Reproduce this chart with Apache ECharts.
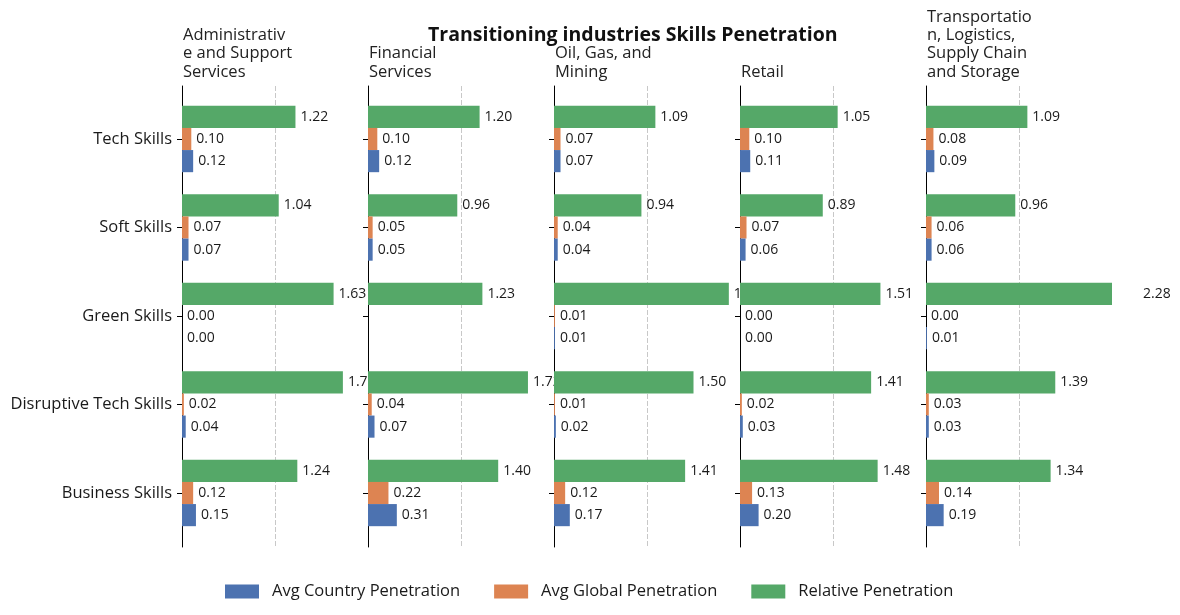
<!DOCTYPE html>
<html>
<head>
<meta charset="utf-8">
<script src="https://cdn.jsdelivr.net/npm/echarts@6/dist/echarts.min.js"></script>
<style>html,body{margin:0;padding:0;background:#fff}#c{width:1180px;height:615px}</style>
</head>
<body>
<div id="c"></div>
<script>
// ---- data (categories listed top to bottom as displayed) ----
var categories = ['Tech Skills', 'Soft Skills', 'Green Skills', 'Disruptive Tech Skills', 'Business Skills'];
var industries = ['Administrativ\ne and Support\nServices', 'Financial\nServices', 'Oil, Gas, and\nMining', 'Retail', 'Transportatio\nn, Logistics,\nSupply Chain\nand Storage'];
var seriesNames = ['Avg Country Penetration', 'Avg Global Penetration', 'Relative Penetration'];
var xTicks = [0, 1, 2];

// values per industry, in category order above
var adminCountry = [0.12, 0.07, 0.00, 0.04, 0.15];
var adminGlobal = [0.10, 0.07, 0.00, 0.02, 0.12];
var adminRelative = [1.22, 1.04, 1.63, 1.73, 1.24];

var finCountry = [0.12, 0.05, null, 0.07, 0.31];
var finGlobal = [0.10, 0.05, null, 0.04, 0.22];
var finRelative = [1.20, 0.96, 1.23, 1.72, 1.40];

var oilCountry = [0.07, 0.04, 0.01, 0.02, 0.17];
var oilGlobal = [0.07, 0.04, 0.01, 0.01, 0.12];
var oilRelative = [1.09, 0.94, 1.88, 1.50, 1.41];

var retailCountry = [0.11, 0.06, 0.00, 0.03, 0.20];
var retailGlobal = [0.10, 0.07, 0.00, 0.02, 0.13];
var retailRelative = [1.05, 0.89, 1.51, 1.41, 1.48];

var transCountry = [0.09, 0.06, 0.01, 0.03, 0.19];
var transGlobal = [0.08, 0.06, 0.00, 0.03, 0.14];
var transRelative = [1.09, 0.96, 2.28, 1.39, 1.34];

var panelData = [
  [adminCountry, adminGlobal, adminRelative],
  [finCountry, finGlobal, finRelative],
  [oilCountry, oilGlobal, oilRelative],
  [retailCountry, retailGlobal, retailRelative],
  [transCountry, transGlobal, transRelative]
];

// ---- styling / layout ----
var colors = ['#4C72B0', '#DD8452', '#55A868'];
var FONT = 'Open Sans';
var panelLeft0 = 182, panelW = 186, panelStep = 186;
var outerTop = 86, outerH = 461;
var innerTop = 94.75, innerH = 442.5;

function rev(a) { return a.slice().reverse(); }
var catsBottomUp = rev(categories);

var grid = [], xAxis = [], yAxis = [], series = [], title = [];

title.push({
  text: 'Transitioning industries Skills Penetration',
  left: 428, top: 25, padding: 0,
  textStyle: { fontFamily: FONT, fontSize: 19.5, fontWeight: 'bold', color: '#111' }
});

var drawOrder = [2, 1, 0]; // top-to-bottom inside a group: relative, global, country

for (var i = 0; i < industries.length; i++) {
  var L = panelLeft0 + i * panelStep;
  var og = grid.length;
  grid.push({ left: L, top: outerTop, width: panelW, height: outerH, containLabel: false });
  var ig = grid.length;
  grid.push({ left: L, top: innerTop, width: panelW, height: innerH, containLabel: false });

  title.push({
    text: industries[i], left: L + 1, bottom: 534, padding: 0,
    textStyle: { fontFamily: FONT, fontSize: 16.5, fontWeight: 'normal', color: '#222', lineHeight: 18.3 }
  });

  xAxis.push({
    gridIndex: og, type: 'value', min: xTicks[0], max: xTicks[xTicks.length - 1], interval: 1,
    axisLine: { show: false }, axisTick: { show: false }, axisLabel: { show: false },
    splitLine: { show: true, showMinLine: false, showMaxLine: false, lineStyle: { color: '#c8c8c8', type: [5, 2], width: 1 } }
  });
  yAxis.push({
    gridIndex: og, type: 'value', min: 0, max: 1,
    axisLine: { show: true, lineStyle: { color: '#000', width: 1 } },
    axisTick: { show: false }, axisLabel: { show: false }, splitLine: { show: false }
  });

  var ixi = xAxis.length;
  xAxis.push({
    gridIndex: ig, type: 'value', min: xTicks[0], max: xTicks[xTicks.length - 1],
    axisLine: { show: false }, axisTick: { show: false }, axisLabel: { show: false }, splitLine: { show: false }
  });
  var iyA = yAxis.length;
  yAxis.push({
    gridIndex: ig, type: 'category', data: catsBottomUp, position: 'left',
    axisLine: { show: false },
    axisTick: { show: true, alignWithLabel: true, length: 5, lineStyle: { color: '#000' } },
    axisLabel: { show: i === 0, margin: 10, fontFamily: FONT, fontSize: 16.5, color: '#1a1a1a' },
    splitLine: { show: false }
  });
  var iyB = yAxis.length;
  yAxis.push({ gridIndex: ig, type: 'category', data: catsBottomUp, position: 'left', show: false });

  drawOrder.forEach(function (s) {
    series.push({
      name: seriesNames[s], type: 'bar', xAxisIndex: ixi, yAxisIndex: iyA,
      data: rev(panelData[i][s]), barGap: '0%', barCategoryGap: '25%', clip: true,
      z: 10 + 2 * i, silent: true,
      itemStyle: { color: colors[s] },
      label: { show: false }
    });
  });
  drawOrder.forEach(function (s) {
    series.push({
      name: seriesNames[s], type: 'bar', xAxisIndex: ixi, yAxisIndex: iyB,
      data: rev(panelData[i][s]), barGap: '0%', barCategoryGap: '25%', clip: false,
      z: 10 + 2 * i, silent: true,
      itemStyle: { color: 'rgba(0,0,0,0)' },
      label: {
        show: true, position: 'right', distance: 5,
        fontFamily: FONT, fontSize: 14, color: '#1a1a1a',
        formatter: function (p) { return p.value == null ? '' : Number(p.value).toFixed(2); }
      }
    });
  });
}

var chart = echarts.init(document.getElementById('c'), null, { renderer: 'canvas' });
chart.setOption({
  animation: false,
  backgroundColor: '#fff',
  textStyle: { fontFamily: FONT },
  color: colors,
  title: title,
  legend: {
    data: seriesNames.map(function (n, k) { return { name: n, itemStyle: { color: colors[k] } }; }),
    left: 225, top: 583, padding: 0, itemWidth: 34, itemHeight: 14, itemGap: 34, icon: 'rect',
    selectedMode: false,
    textStyle: { fontFamily: FONT, fontSize: 16.5, color: '#1a1a1a', padding: [0, 0, 0, 8] }
  },
  grid: grid, xAxis: xAxis, yAxis: yAxis, series: series
});
</script>
</body>
</html>
